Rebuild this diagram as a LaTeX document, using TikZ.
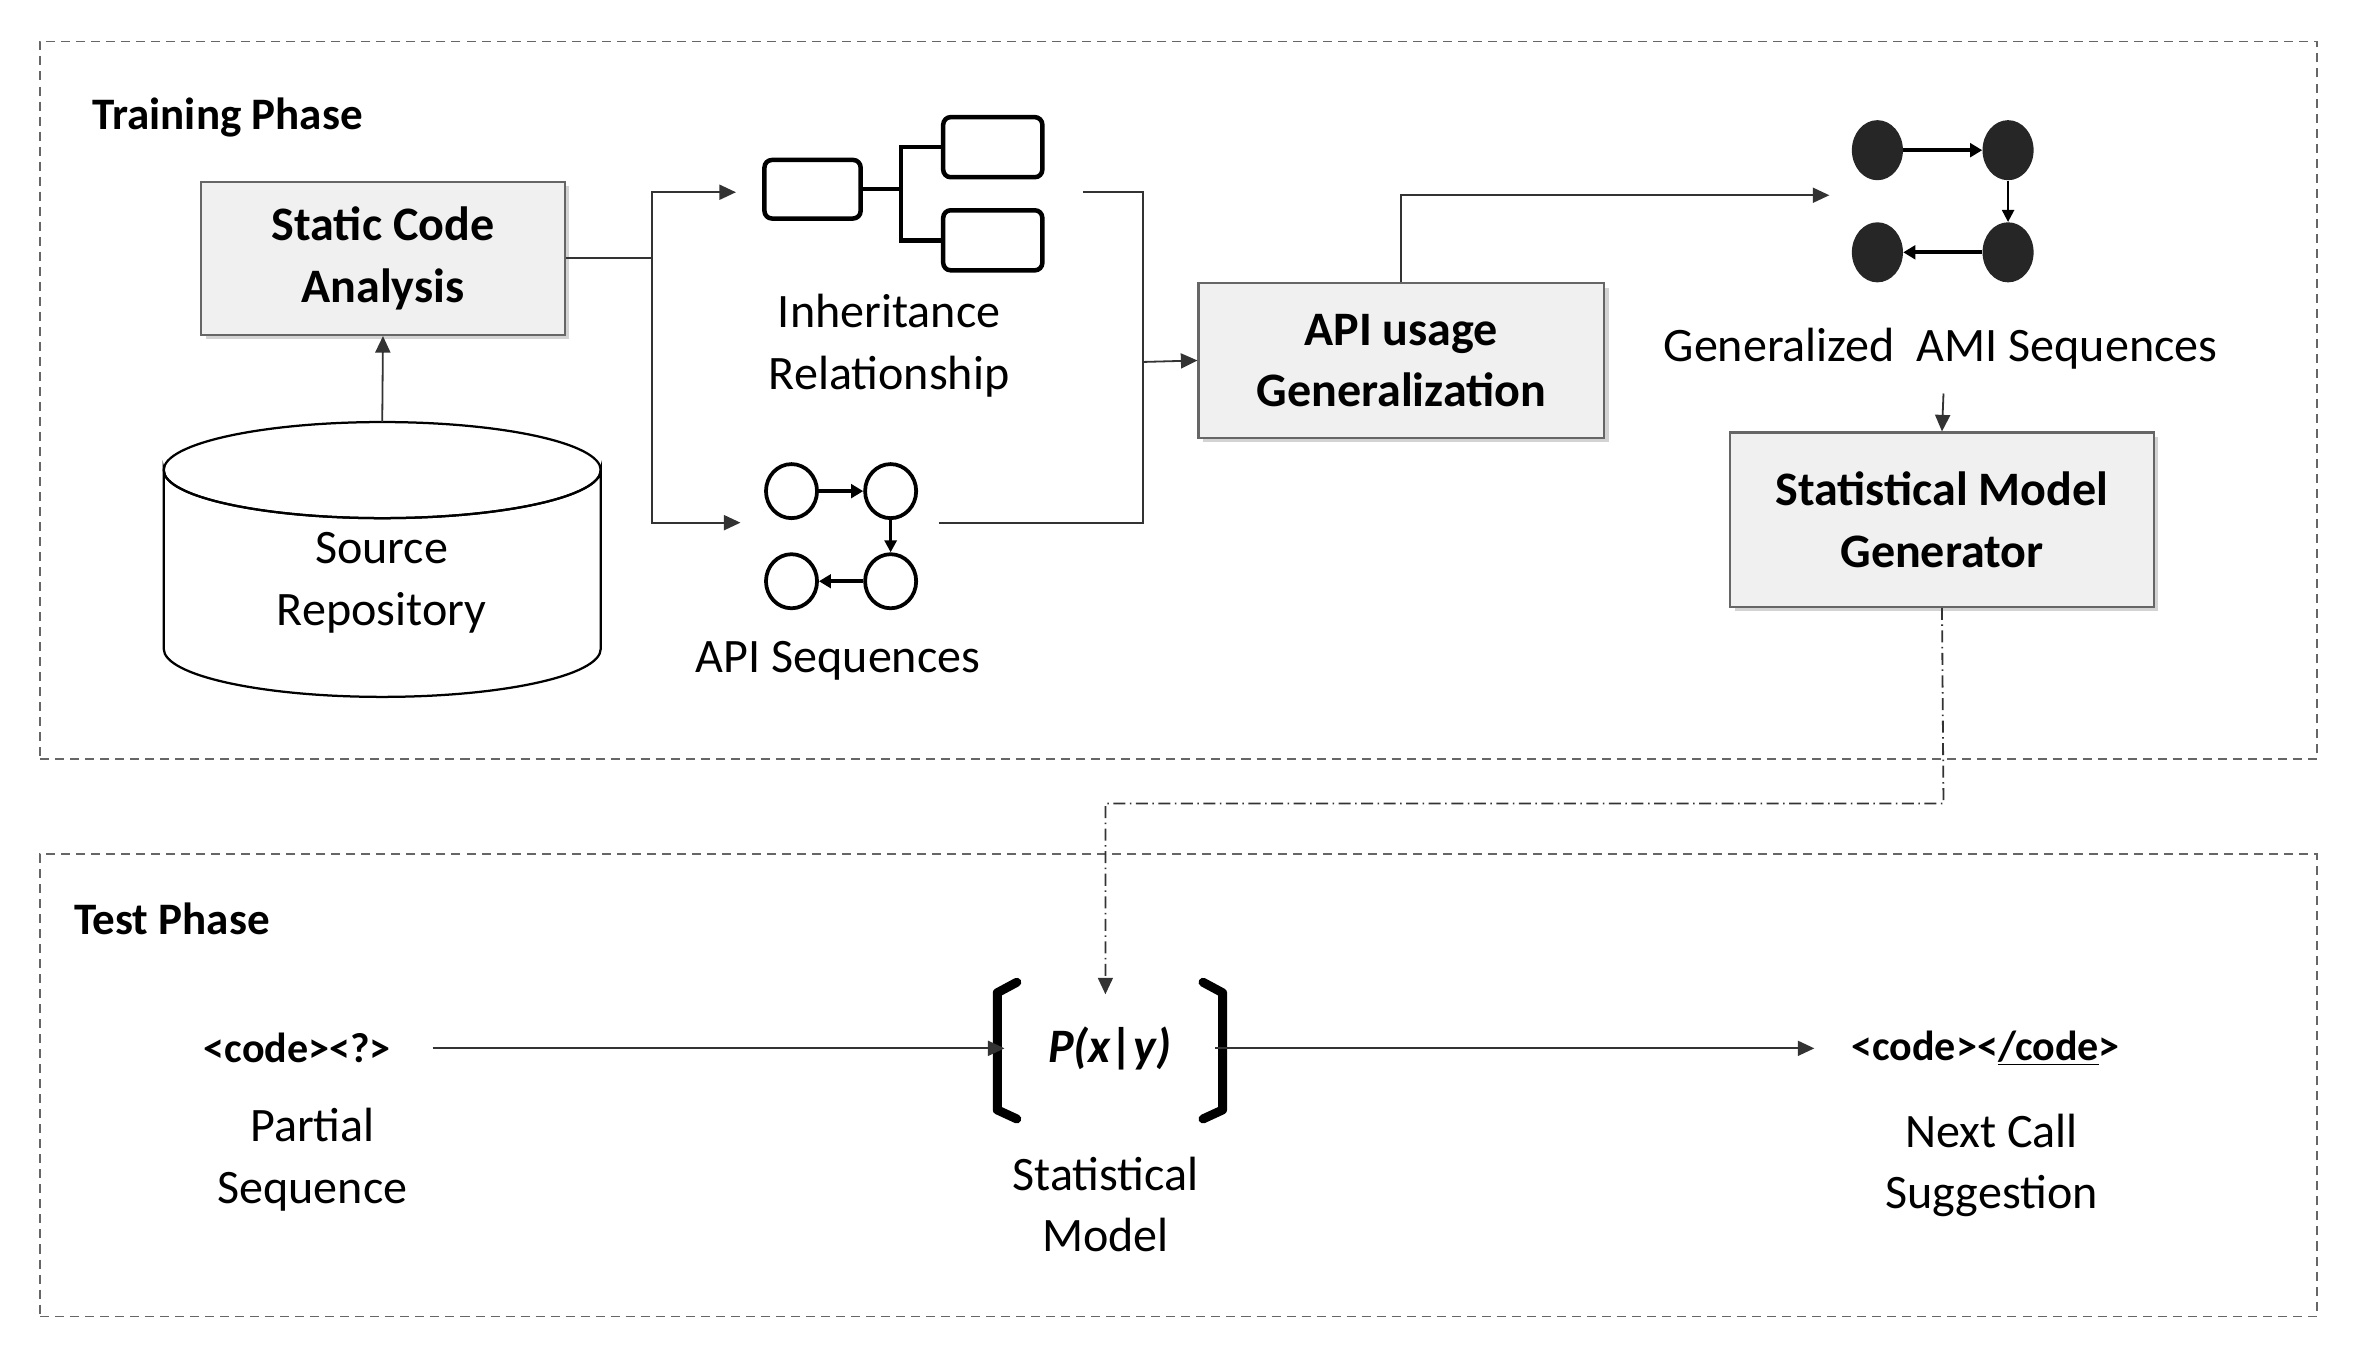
\documentclass[tikz,border=0pt]{standalone}
\usepackage{fontspec}
\setmainfont{Carlito}
\usetikzlibrary{arrows.meta,shadows,shapes.geometric}
\begin{document}
\begin{tikzpicture}[x=1pt,y=-1pt,
  box/.style={draw=black!60,line width=1.5pt,fill=black!6,drop shadow={shadow xshift=3pt,shadow yshift=-3pt,opacity=.35},align=center,font=\fontsize{32}{41}\selectfont\bfseries},
  lbl/.style={align=center,font=\fontsize{32}{41}\selectfont},
  con/.style={draw=black!80,line width=1.2pt},
  arr/.style={con,-{Triangle[length=11pt,width=10pt]}},
  ic/.style={line width=3pt},
  phase/.style={draw=black!60,dash pattern=on 6pt off 4pt,line width=1.2pt}]
\useasboundingbox (0,0) rectangle (1568,904);
\node[phase,minimum width=1516pt,minimum height=478pt,anchor=north west] (train) at (26,27) {};
\node[phase,minimum width=1516pt,minimum height=308pt,anchor=north west] (test) at (26,568) {};
\node[anchor=west,font=\fontsize{30}{30}\selectfont\bfseries] (tl) at (58,78) {Training Phase};
\node[anchor=west,font=\fontsize{30}{30}\selectfont\bfseries] (ttl) at (46,612) {Test Phase};

\node[box,minimum width=242pt,minimum height=102pt] (sca) at (255,172) {Static Code\\Analysis};
\coordinate (repotop) at (254.5,281);
\draw[line width=1.5pt,fill=white] (109,313) arc[start angle=180,end angle=360,x radius=145.5pt,y radius=32pt]
  -- (400,432) arc[start angle=0,end angle=-180,x radius=145.5pt,y radius=32pt] -- cycle;
\draw[line width=1.5pt] (254.5,313) ellipse[x radius=145.5pt,y radius=32pt];
\node[lbl] (repot) at (254,388) {Source\\Repository};
\draw[arr] (repotop) -- (sca.south);

% inheritance icon
\node[draw,ic,rounded corners=5pt,minimum width=64pt,minimum height=39pt] (r1) at (541,126) {};
\node[draw,ic,rounded corners=5pt,minimum width=66pt,minimum height=40pt] (r2) at (661,98) {};
\node[draw,ic,rounded corners=5pt,minimum width=66pt,minimum height=40pt] (r3) at (661,160) {};
\coordinate (jn) at (600,126);
\draw[ic] (r1.east) -- (jn);
\draw[ic] (r2.west) -| (jn) |- (r3.west);
\node[lbl] (inh) at (592,230) {Inheritance\\Relationship};

% API seq icon
\foreach \n/\x/\y in {a/527/327,b/593/327,c/527/387,d/593/387}
  \node[draw,line width=2.5pt,ellipse,minimum width=34pt,minimum height=36pt] (\n) at (\x,\y) {};
\draw[line width=2.5pt,-{Triangle[length=8pt,width=9pt]}] (a) -- (b);
\draw[line width=2pt,-{Triangle[length=8pt,width=8pt]}] (b) -- (d);
\draw[line width=2.5pt,-{Triangle[length=8pt,width=9pt]}] (d) -- (c);
\node[lbl] (apis) at (558,440) {API Sequences};

\coordinate (s1) at (434,172);
\coordinate (inhin) at (490,128);
\coordinate (seqin) at (493,348);
\draw[con] (sca.east) -- (s1);
\draw[arr] (s1) |- (inhin);
\draw[arr] (s1) |- (seqin);

\node[box,minimum width=270pt,minimum height=103pt] (gen) at (933,240) {API usage\\Generalization};
\coordinate (io) at (721,128);
\coordinate (so) at (625,348);
\coordinate (m) at (761,241);
\draw[con] (io) -| (m);
\draw[con] (so) -| (m);
\draw[arr] (m) -- (gen.west);

% AMI icon
\foreach \n/\x/\y in {e/1250/100,f/1337/100,g/1250/168,h/1337/168}
  \node[fill=black!85,ellipse,minimum width=34pt,minimum height=40pt] (\n) at (\x,\y) {};
\draw[line width=2.5pt,-{Triangle[length=8pt,width=9pt]}] (e) -- (f);
\draw[line width=1.5pt,-{Triangle[length=8pt,width=8pt]}] (f) -- (h);
\draw[line width=2.5pt,-{Triangle[length=8pt,width=9pt]}] (h) -- (g);
\coordinate (amiin) at (1218,130);
\draw[arr] (gen.north) |- (amiin);
\node[lbl] (ami) at (1292,232) {Generalized\ \ AMI Sequences};

\node[box,minimum width=282pt,minimum height=116pt] (smg) at (1293,346) {Statistical Model\\Generator};
\coordinate (amib) at (1294,262);
\draw[arr] (amib) -- (smg.north);

% test phase
\node[font=\fontsize{28}{28}\selectfont\bfseries] (part) at (198,698) {<code><?>};
\node[lbl] (partl) at (208,772) {Partial\\Sequence};
\node[font=\fontsize{32}{32}\selectfont\bfseries\itshape,minimum width=140pt,minimum height=94pt] (pm) at (739,698) {P(x|y)};
\draw[line width=6pt,line join=round,line cap=round] (677,654) -- (664,661) -- (664,739) -- (677,745);
\draw[line width=6pt,line join=round,line cap=round] (801,654) -- (814,661) -- (814,739) -- (801,745);
\node[lbl] (pml) at (736,802) {Statistical\\Model};
\node[font=\fontsize{28}{28}\selectfont\bfseries] (nxt) at (1322,698) {<code><\underline{/code}>};
\node[lbl] (nxtl) at (1326,776) {Next Call\\Suggestion};
\coordinate (pin) at (288,698);
\coordinate (nin) at (1208,698);
\draw[arr] (pin) -- (pm.west);
\draw[arr] (pm.east) -- (nin);

\coordinate (d1) at (1294,535);
\coordinate (d2) at (736,662);
\draw[con,dash pattern=on 8pt off 3pt on 1pt off 3pt,-{Triangle[length=11pt,width=10pt]}] (smg.south) -- (d1) -| (d2);
\end{tikzpicture}
\end{document}
